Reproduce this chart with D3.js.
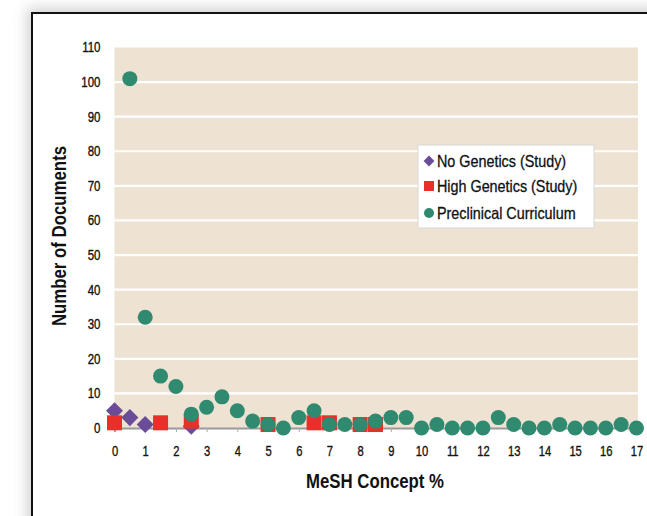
<!DOCTYPE html>
<html><head><meta charset="utf-8">
<script src="https://cdn.jsdelivr.net/npm/d3@7"></script>
<style>
html,body{margin:0;padding:0;background:#fff;}
text{font-family:"Liberation Sans",Arial,sans-serif;fill:#111;}
</style></head>
<body>
<svg id="c" width="647" height="516"></svg>
<script>
// ---- data ----
const xTickValues = [0,1,2,3,4,5,6,7,8,9,10,11,12,13,14,15,16,17];
const yTickValues = [0,10,20,30,40,50,60,70,80,90,100,110];
const seriesNames = ["No Genetics (Study)","High Genetics (Study)","Preclinical Curriculum"];
const noGeneticsX = [0,0.5,1,2.5];
const noGeneticsY = [5,3,1,0.5];
const highGeneticsX = [0,1.5,2.5,5,6.5,7,8,8.5];
const highGeneticsY = [1.5,1.5,2,1,1.5,1.5,1,1];
const preclinicalX = [0.5,1,1.5,2,2.5,3,3.5,4,4.5,5,5.5,6,6.5,7,7.5,8,8.5,9,9.5,10,10.5,11,11.5,12,12.5,13,13.5,14,14.5,15,15.5,16,16.5,17];
const preclinicalY = [101,32,15,12,4,6,9,5,2,1,0,3,5,1,1,1,2,3,3,0,1,0,0,0,3,1,0,0,1,0,0,0,1,0];
const xTitle = "MeSH Concept %";
const yTitle = "Number of Documents";

const colors = ["#6a4c98","#e8302a","#2f8a6f"];

// condense text horizontally around its anchor (no narrow font installed)
function narrow(sel, s){
  sel.attr("transform", function(){
    const x0 = +(this.getAttribute("x")||0);
    return `translate(${x0*(1-s)},0) scale(${s},1)`;
  });
}

const svg = d3.select("#c");
const defs = svg.append("defs");
const f = defs.append("filter").attr("id","sh").attr("x","-10%").attr("y","-10%").attr("width","120%").attr("height","120%");
f.append("feGaussianBlur").attr("stdDeviation",7);

// frame + shadow
svg.append("rect").attr("x",27).attr("y",8).attr("width",700).attr("height",600).attr("fill","#d0d0d0").attr("filter","url(#sh)");
svg.append("rect").attr("x",32).attr("y",13).attr("width",700).attr("height",600).attr("fill","#fff").attr("stroke","#111").attr("stroke-width",2);

const x = d3.scaleLinear().domain([0,17]).range([114.5,636.5]);
const y = d3.scaleLinear().domain([0,110]).range([428,47.5]);

// plot background
svg.append("rect").attr("x",x(0)).attr("y",y(110)).attr("width",x(17)-x(0)+1.5).attr("height",y(0)-y(110)).attr("fill","#eee2d2");

// gridlines
svg.append("g").selectAll("line").data(yTickValues.filter(v=>v>0 && v<110)).join("line")
  .attr("x1",x(0)).attr("x2",x(17)+1.5).attr("y1",d=>y(d)).attr("y2",d=>y(d))
  .attr("stroke","#fff").attr("stroke-width",2.2);

// x axis
const xAxis = d3.axisBottom(x).tickValues(xTickValues).tickSize(4).tickPadding(14).tickFormat(d3.format("d"));
const gx = svg.append("g").attr("transform",`translate(0,${y(0)})`).call(xAxis);
gx.select(".domain").attr("stroke","#999").attr("stroke-width",2);
gx.selectAll(".tick line").attr("stroke","#aaa");
gx.selectAll("text").attr("font-size",14).style("font-family","'Liberation Sans',Arial,sans-serif")
  .attr("fill","#151515").attr("stroke","#151515").attr("stroke-width",0.35).call(narrow,0.8);

// y axis
const yAxis = d3.axisLeft(y).tickValues(yTickValues).tickSize(0).tickPadding(14).tickFormat(d3.format("d"));
const gy = svg.append("g").attr("transform",`translate(${x(0)},0)`).call(yAxis);
gy.select(".domain").remove();
gy.selectAll("text").attr("font-size",14).style("font-family","'Liberation Sans',Arial,sans-serif")
  .attr("fill","#151515").attr("stroke","#151515").attr("stroke-width",0.35).call(narrow,0.82);

// series
const noGen = noGeneticsX.map((v,i)=>({x:v,y:noGeneticsY[i]}));
const highGen = highGeneticsX.map((v,i)=>({x:v,y:highGeneticsY[i]}));
const pre = preclinicalX.map((v,i)=>({x:v,y:preclinicalY[i]}));

const diamond = d3.symbol().type(d3.symbolDiamond2).size(185);
svg.append("g").selectAll("path").data(noGen).join("path")
  .attr("d",diamond).attr("transform",d=>`translate(${x(d.x)},${y(d.y)})`).attr("fill",colors[0]);

svg.append("g").selectAll("rect").data(highGen).join("rect")
  .attr("x",d=>x(d.x)-7.5).attr("y",d=>y(d.y)-7.5).attr("width",15).attr("height",15).attr("fill",colors[1]);

svg.append("g").selectAll("circle").data(pre).join("circle")
  .attr("cx",d=>x(d.x)).attr("cy",d=>y(d.y)).attr("r",7.5).attr("fill",colors[2]);

// titles
svg.append("text").attr("x",375).attr("y",488).attr("text-anchor","middle")
  .attr("font-size",20.5).attr("font-weight","bold").text(xTitle).call(narrow,0.82);
svg.append("text").attr("transform","translate(66,236) rotate(-90) scale(0.82,1)").attr("text-anchor","middle")
  .attr("font-size",20.5).attr("font-weight","bold").text(yTitle);

// legend
const lg = svg.append("g").attr("transform","translate(418,145)");
lg.append("rect").attr("width",176).attr("height",83).attr("fill","#fff").attr("stroke","#d8d8d8");
const rows = [16,41,68];
lg.append("path").attr("d",d3.symbol().type(d3.symbolDiamond2).size(75)).attr("transform",`translate(11,${rows[0]})`).attr("fill",colors[0]);
lg.append("rect").attr("x",6).attr("y",rows[1]-5).attr("width",10).attr("height",10).attr("fill",colors[1]);
lg.append("circle").attr("cx",11).attr("cy",rows[2]).attr("r",5).attr("fill",colors[2]);
lg.selectAll("text.l").data(seriesNames).join("text").attr("class","l")
  .attr("x",19).attr("y",(d,i)=>rows[i]+6).attr("font-size",16.5)
  .attr("stroke","#111").attr("stroke-width",0.3).text(d=>d).call(narrow,0.87);
</script>
</body></html>
